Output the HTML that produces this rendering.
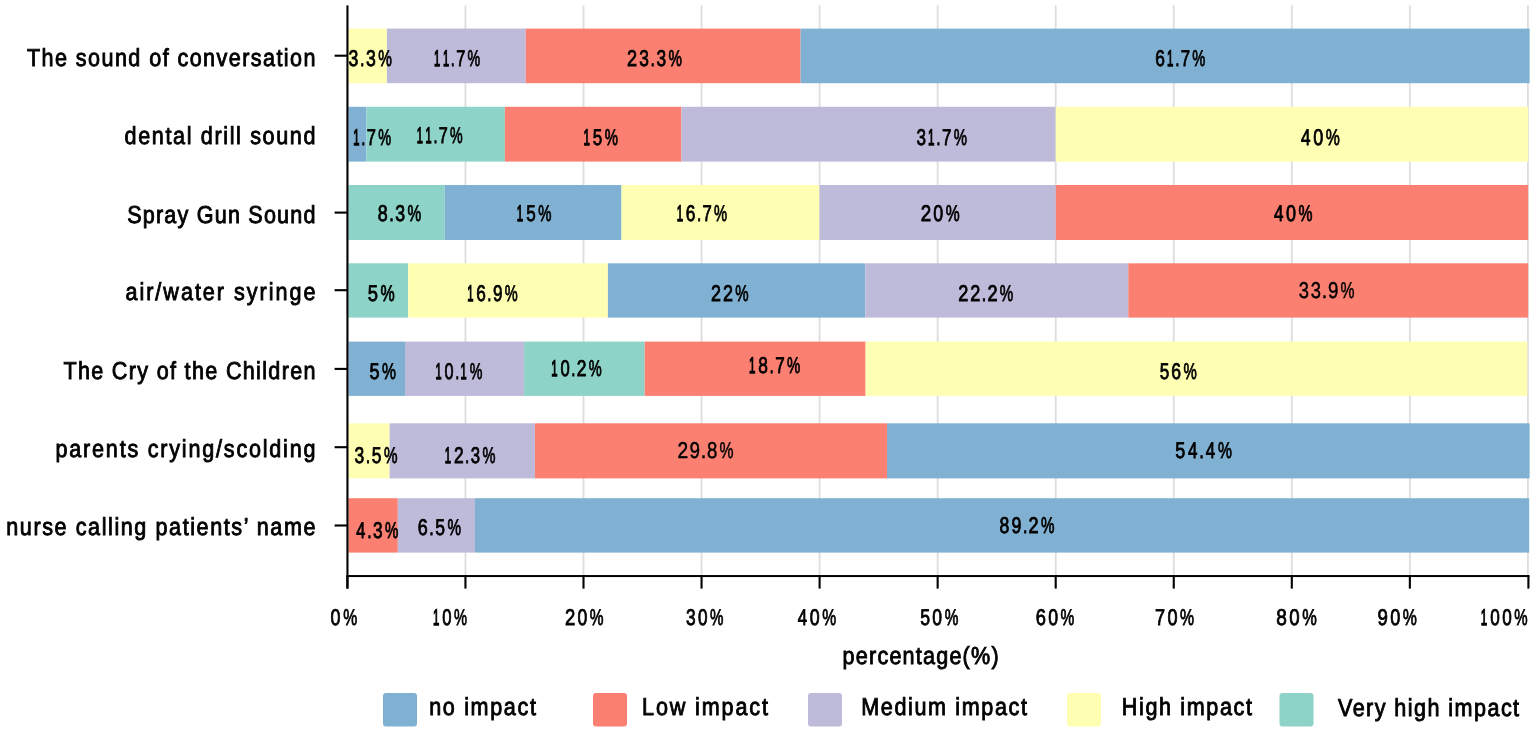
<!DOCTYPE html><html><head><meta charset="utf-8"><title>Noise impact chart</title><style>html,body{margin:0;padding:0;background:#fff;}svg{display:block;}text{font-family:"Liberation Sans",sans-serif;fill:#000;text-rendering:geometricPrecision;}.m{stroke:#000;stroke-width:0.85px;}.r{stroke:#000;stroke-width:0.5px;}.L{stroke:#000;stroke-width:0.9px;}</style></head><body>
<svg width="1535" height="732" viewBox="0 0 1535 732">
<rect x="0" y="0" width="1535" height="732" fill="#ffffff"/>
<rect x="464.55" y="5.4" width="1.8" height="571" fill="#dddddd"/>
<rect x="582.60" y="5.4" width="1.8" height="571" fill="#dddddd"/>
<rect x="700.65" y="5.4" width="1.8" height="571" fill="#dddddd"/>
<rect x="818.70" y="5.4" width="1.8" height="571" fill="#dddddd"/>
<rect x="936.75" y="5.4" width="1.8" height="571" fill="#dddddd"/>
<rect x="1054.80" y="5.4" width="1.8" height="571" fill="#dddddd"/>
<rect x="1172.85" y="5.4" width="1.8" height="571" fill="#dddddd"/>
<rect x="1290.90" y="5.4" width="1.8" height="571" fill="#dddddd"/>
<rect x="1408.95" y="5.4" width="1.8" height="571" fill="#dddddd"/>
<rect x="1527.00" y="5.4" width="1.8" height="571" fill="#dddddd"/>
<rect x="348.40" y="28.6" width="38.50" height="54.60" fill="#ffffb3"/>
<rect x="386.90" y="28.6" width="138.80" height="54.60" fill="#bebada"/>
<rect x="525.70" y="28.6" width="274.90" height="54.60" fill="#fb8072"/>
<rect x="800.60" y="28.6" width="729.00" height="54.60" fill="#80b1d3"/>
<rect x="348.40" y="106.8" width="18.10" height="54.80" fill="#80b1d3"/>
<rect x="366.50" y="106.8" width="138.40" height="54.80" fill="#8dd3c7"/>
<rect x="504.90" y="106.8" width="176.50" height="54.80" fill="#fb8072"/>
<rect x="681.40" y="106.8" width="374.30" height="54.80" fill="#bebada"/>
<rect x="1055.70" y="106.8" width="472.50" height="54.80" fill="#ffffb3"/>
<rect x="348.40" y="185.0" width="96.20" height="55.00" fill="#8dd3c7"/>
<rect x="444.60" y="185.0" width="176.90" height="55.00" fill="#80b1d3"/>
<rect x="621.50" y="185.0" width="198.00" height="55.00" fill="#ffffb3"/>
<rect x="819.50" y="185.0" width="236.30" height="55.00" fill="#bebada"/>
<rect x="1055.80" y="185.0" width="472.40" height="55.00" fill="#fb8072"/>
<rect x="348.40" y="263.3" width="59.80" height="54.30" fill="#8dd3c7"/>
<rect x="408.20" y="263.3" width="199.70" height="54.30" fill="#ffffb3"/>
<rect x="607.90" y="263.3" width="257.50" height="54.30" fill="#80b1d3"/>
<rect x="865.40" y="263.3" width="262.90" height="54.30" fill="#bebada"/>
<rect x="1128.30" y="263.3" width="399.90" height="54.30" fill="#fb8072"/>
<rect x="348.40" y="341.6" width="56.60" height="54.30" fill="#80b1d3"/>
<rect x="405.00" y="341.6" width="119.10" height="54.30" fill="#bebada"/>
<rect x="524.10" y="341.6" width="120.60" height="54.30" fill="#8dd3c7"/>
<rect x="644.70" y="341.6" width="220.90" height="54.30" fill="#fb8072"/>
<rect x="865.60" y="341.6" width="661.80" height="54.30" fill="#ffffb3"/>
<rect x="348.40" y="423.3" width="41.20" height="55.10" fill="#ffffb3"/>
<rect x="389.60" y="423.3" width="145.30" height="55.10" fill="#bebada"/>
<rect x="534.90" y="423.3" width="352.10" height="55.10" fill="#fb8072"/>
<rect x="887.00" y="423.3" width="642.60" height="55.10" fill="#80b1d3"/>
<rect x="348.40" y="498.2" width="49.40" height="54.40" fill="#fb8072"/>
<rect x="397.80" y="498.2" width="77.20" height="54.40" fill="#bebada"/>
<rect x="475.00" y="498.2" width="1054.20" height="54.40" fill="#80b1d3"/>
<rect x="346.4" y="5.4" width="2.1" height="583.2" fill="#000"/>
<rect x="346.4" y="575.05" width="1183" height="2.0" fill="#000"/>
<rect x="346.35" y="575.5" width="2.1" height="13.1" fill="#000"/>
<rect x="464.40" y="575.5" width="2.1" height="13.1" fill="#000"/>
<rect x="582.45" y="575.5" width="2.1" height="13.1" fill="#000"/>
<rect x="700.50" y="575.5" width="2.1" height="13.1" fill="#000"/>
<rect x="818.55" y="575.5" width="2.1" height="13.1" fill="#000"/>
<rect x="936.60" y="575.5" width="2.1" height="13.1" fill="#000"/>
<rect x="1054.65" y="575.5" width="2.1" height="13.1" fill="#000"/>
<rect x="1172.70" y="575.5" width="2.1" height="13.1" fill="#000"/>
<rect x="1290.75" y="575.5" width="2.1" height="13.1" fill="#000"/>
<rect x="1408.80" y="575.5" width="2.1" height="13.1" fill="#000"/>
<rect x="1527.35" y="575.5" width="2.1" height="13.1" fill="#000"/>
<rect x="334.6" y="54.65" width="13" height="2.1" fill="#000"/>
<rect x="334.6" y="211.55" width="13" height="2.1" fill="#000"/>
<rect x="334.6" y="289.15" width="13" height="2.1" fill="#000"/>
<rect x="334.6" y="367.85" width="13" height="2.1" fill="#000"/>
<rect x="334.6" y="446.15" width="13" height="2.1" fill="#000"/>
<rect x="334.6" y="524.45" width="13" height="2.1" fill="#000"/>
<rect x="383.0" y="693.0" width="34" height="33.6" rx="3" ry="3" fill="#80b1d3"/>
<rect x="593.0" y="693.0" width="34" height="33.6" rx="3" ry="3" fill="#fb8072"/>
<rect x="808.0" y="693.0" width="34" height="33.6" rx="3" ry="3" fill="#bebada"/>
<rect x="1067.0" y="693.0" width="34" height="33.6" rx="3" ry="3" fill="#ffffb3"/>
<rect x="1279.5" y="693.0" width="34" height="33.6" rx="3" ry="3" fill="#8dd3c7"/>
<text class="L" transform="translate(27.00,65.80) scale(0.88,1)" x="0" y="0" font-size="24.5" textLength="327.84" lengthAdjust="spacing">The sound of conversation</text>
<text class="L" transform="translate(124.50,144.40) scale(0.88,1)" x="0" y="0" font-size="24.5" textLength="217.05" lengthAdjust="spacing">dental drill sound</text>
<text class="L" transform="translate(127.20,222.60) scale(0.88,1)" x="0" y="0" font-size="24.5" textLength="213.98" lengthAdjust="spacing">Spray Gun Sound</text>
<text class="L" transform="translate(125.40,300.30) scale(0.88,1)" x="0" y="0" font-size="24.5" textLength="216.02" lengthAdjust="spacing">air/water syringe</text>
<text class="L" transform="translate(63.40,379.30) scale(0.88,1)" x="0" y="0" font-size="24.5" textLength="286.48" lengthAdjust="spacing">The Cry of the Children</text>
<text class="L" transform="translate(55.50,456.90) scale(0.88,1)" x="0" y="0" font-size="24.5" textLength="295.45" lengthAdjust="spacing">parents crying/scolding</text>
<text class="L" transform="translate(6.30,535.30) scale(0.88,1)" x="0" y="0" font-size="24.5" textLength="351.36" lengthAdjust="spacing">nurse calling patients’ name</text>
<text class="m" y="66.10" font-size="22.8"><tspan x="348.55" textLength="9.82" lengthAdjust="spacingAndGlyphs">3</tspan><tspan x="359.96" textLength="4.54" lengthAdjust="spacingAndGlyphs">.</tspan><tspan x="365.99" textLength="9.82" lengthAdjust="spacingAndGlyphs">3</tspan><tspan x="378.25" textLength="13.68" lengthAdjust="spacingAndGlyphs">%</tspan></text>
<text class="m" y="66.30" font-size="22.8"><tspan x="433.98" textLength="6.15" lengthAdjust="spacingAndGlyphs" stroke-width="1.3">1</tspan><tspan x="442.88" textLength="6.15" lengthAdjust="spacingAndGlyphs" stroke-width="1.3">1</tspan><tspan x="450.81" textLength="4.08" lengthAdjust="spacingAndGlyphs">.</tspan><tspan x="456.19" textLength="9.04" lengthAdjust="spacingAndGlyphs">7</tspan><tspan x="467.47" textLength="12.72" lengthAdjust="spacingAndGlyphs">%</tspan></text>
<text class="m" y="66.20" font-size="22.8"><tspan x="627.12" textLength="10.03" lengthAdjust="spacingAndGlyphs">2</tspan><tspan x="639.29" textLength="9.64" lengthAdjust="spacingAndGlyphs">3</tspan><tspan x="650.52" textLength="4.42" lengthAdjust="spacingAndGlyphs">.</tspan><tspan x="656.44" textLength="9.64" lengthAdjust="spacingAndGlyphs">3</tspan><tspan x="668.48" textLength="13.43" lengthAdjust="spacingAndGlyphs">%</tspan></text>
<text class="m" y="66.20" font-size="22.8"><tspan x="1155.34" textLength="9.65" lengthAdjust="spacingAndGlyphs">6</tspan><tspan x="1167.01" textLength="6.36" lengthAdjust="spacingAndGlyphs" stroke-width="1.3">1</tspan><tspan x="1175.14" textLength="4.26" lengthAdjust="spacingAndGlyphs">.</tspan><tspan x="1180.69" textLength="9.33" lengthAdjust="spacingAndGlyphs">7</tspan><tspan x="1192.29" textLength="13.11" lengthAdjust="spacingAndGlyphs">%</tspan></text>
<text class="m" y="144.80" font-size="22.8"><tspan x="353.32" textLength="6.24" lengthAdjust="spacingAndGlyphs" stroke-width="1.3">1</tspan><tspan x="361.34" textLength="4.16" lengthAdjust="spacingAndGlyphs">.</tspan><tspan x="366.79" textLength="9.16" lengthAdjust="spacingAndGlyphs">7</tspan><tspan x="378.21" textLength="12.88" lengthAdjust="spacingAndGlyphs">%</tspan></text>
<text class="m" y="143.30" font-size="22.8"><tspan x="416.69" textLength="6.12" lengthAdjust="spacingAndGlyphs" stroke-width="1.3">1</tspan><tspan x="425.54" textLength="6.12" lengthAdjust="spacingAndGlyphs" stroke-width="1.3">1</tspan><tspan x="433.44" textLength="4.05" lengthAdjust="spacingAndGlyphs">.</tspan><tspan x="438.79" textLength="9.00" lengthAdjust="spacingAndGlyphs">7</tspan><tspan x="450.02" textLength="12.66" lengthAdjust="spacingAndGlyphs">%</tspan></text>
<text class="m" y="144.80" font-size="22.8"><tspan x="583.45" textLength="6.42" lengthAdjust="spacingAndGlyphs" stroke-width="1.3">1</tspan><tspan x="592.87" textLength="9.49" lengthAdjust="spacingAndGlyphs">5</tspan><tspan x="604.78" textLength="13.23" lengthAdjust="spacingAndGlyphs">%</tspan></text>
<text class="m" y="144.80" font-size="22.8"><tspan x="916.57" textLength="9.50" lengthAdjust="spacingAndGlyphs">3</tspan><tspan x="928.11" textLength="6.43" lengthAdjust="spacingAndGlyphs" stroke-width="1.3">1</tspan><tspan x="936.33" textLength="4.33" lengthAdjust="spacingAndGlyphs">.</tspan><tspan x="941.94" textLength="9.43" lengthAdjust="spacingAndGlyphs">7</tspan><tspan x="953.66" textLength="13.25" lengthAdjust="spacingAndGlyphs">%</tspan></text>
<text class="m" y="144.80" font-size="22.8"><tspan x="1301.03" textLength="9.51" lengthAdjust="spacingAndGlyphs">4</tspan><tspan x="1313.17" textLength="10.03" lengthAdjust="spacingAndGlyphs">0</tspan><tspan x="1325.77" textLength="14.07" lengthAdjust="spacingAndGlyphs">%</tspan></text>
<text class="m" y="220.80" font-size="22.8"><tspan x="377.65" textLength="9.95" lengthAdjust="spacingAndGlyphs">8</tspan><tspan x="389.18" textLength="4.56" lengthAdjust="spacingAndGlyphs">.</tspan><tspan x="395.23" textLength="9.85" lengthAdjust="spacingAndGlyphs">3</tspan><tspan x="407.51" textLength="13.71" lengthAdjust="spacingAndGlyphs">%</tspan></text>
<text class="m" y="220.80" font-size="22.8"><tspan x="516.85" textLength="6.42" lengthAdjust="spacingAndGlyphs" stroke-width="1.3">1</tspan><tspan x="526.27" textLength="9.49" lengthAdjust="spacingAndGlyphs">5</tspan><tspan x="538.18" textLength="13.23" lengthAdjust="spacingAndGlyphs">%</tspan></text>
<text class="m" y="220.80" font-size="22.8"><tspan x="676.66" textLength="6.35" lengthAdjust="spacingAndGlyphs" stroke-width="1.3">1</tspan><tspan x="685.78" textLength="9.64" lengthAdjust="spacingAndGlyphs">6</tspan><tspan x="696.99" textLength="4.25" lengthAdjust="spacingAndGlyphs">.</tspan><tspan x="702.53" textLength="9.31" lengthAdjust="spacingAndGlyphs">7</tspan><tspan x="714.12" textLength="13.08" lengthAdjust="spacingAndGlyphs">%</tspan></text>
<text class="m" y="220.80" font-size="22.8"><tspan x="920.68" textLength="10.43" lengthAdjust="spacingAndGlyphs">2</tspan><tspan x="933.28" textLength="9.94" lengthAdjust="spacingAndGlyphs">0</tspan><tspan x="945.78" textLength="13.95" lengthAdjust="spacingAndGlyphs">%</tspan></text>
<text class="m" y="221.10" font-size="22.8"><tspan x="1273.93" textLength="9.49" lengthAdjust="spacingAndGlyphs">4</tspan><tspan x="1286.04" textLength="10.00" lengthAdjust="spacingAndGlyphs">0</tspan><tspan x="1298.61" textLength="14.03" lengthAdjust="spacingAndGlyphs">%</tspan></text>
<text class="m" y="301.00" font-size="22.8"><tspan x="367.79" textLength="10.22" lengthAdjust="spacingAndGlyphs">5</tspan><tspan x="380.53" textLength="14.22" lengthAdjust="spacingAndGlyphs">%</tspan></text>
<text class="m" y="301.00" font-size="22.8"><tspan x="467.16" textLength="6.29" lengthAdjust="spacingAndGlyphs" stroke-width="1.3">1</tspan><tspan x="476.22" textLength="9.56" lengthAdjust="spacingAndGlyphs">6</tspan><tspan x="487.35" textLength="4.20" lengthAdjust="spacingAndGlyphs">.</tspan><tspan x="492.89" textLength="9.55" lengthAdjust="spacingAndGlyphs">9</tspan><tspan x="504.72" textLength="12.98" lengthAdjust="spacingAndGlyphs">%</tspan></text>
<text class="m" y="301.00" font-size="22.8"><tspan x="711.02" textLength="9.98" lengthAdjust="spacingAndGlyphs">2</tspan><tspan x="722.90" textLength="9.98" lengthAdjust="spacingAndGlyphs">2</tspan><tspan x="735.14" textLength="13.37" lengthAdjust="spacingAndGlyphs">%</tspan></text>
<text class="m" y="301.00" font-size="22.8"><tspan x="958.31" textLength="10.07" lengthAdjust="spacingAndGlyphs">2</tspan><tspan x="970.28" textLength="10.07" lengthAdjust="spacingAndGlyphs">2</tspan><tspan x="981.80" textLength="4.45" lengthAdjust="spacingAndGlyphs">.</tspan><tspan x="987.49" textLength="10.07" lengthAdjust="spacingAndGlyphs">2</tspan><tspan x="999.83" textLength="13.48" lengthAdjust="spacingAndGlyphs">%</tspan></text>
<text class="r" y="297.80" font-size="22.8"><tspan x="1298.65" textLength="10.21" lengthAdjust="spacingAndGlyphs">3</tspan><tspan x="1310.75" textLength="10.21" lengthAdjust="spacingAndGlyphs">3</tspan><tspan x="1321.83" textLength="5.54" lengthAdjust="spacingAndGlyphs">.</tspan><tspan x="1327.97" textLength="10.47" lengthAdjust="spacingAndGlyphs">9</tspan><tspan x="1340.39" textLength="14.02" lengthAdjust="spacingAndGlyphs">%</tspan></text>
<text class="m" y="378.80" font-size="22.8"><tspan x="369.50" textLength="10.05" lengthAdjust="spacingAndGlyphs">5</tspan><tspan x="382.05" textLength="13.99" lengthAdjust="spacingAndGlyphs">%</tspan></text>
<text class="m" y="378.80" font-size="22.8"><tspan x="435.49" textLength="6.13" lengthAdjust="spacingAndGlyphs" stroke-width="1.3">1</tspan><tspan x="444.56" textLength="9.01" lengthAdjust="spacingAndGlyphs">0</tspan><tspan x="455.25" textLength="4.06" lengthAdjust="spacingAndGlyphs">.</tspan><tspan x="460.60" textLength="6.13" lengthAdjust="spacingAndGlyphs" stroke-width="1.3">1</tspan><tspan x="469.80" textLength="12.68" lengthAdjust="spacingAndGlyphs">%</tspan></text>
<text class="m" y="375.70" font-size="22.8"><tspan x="551.16" textLength="6.29" lengthAdjust="spacingAndGlyphs" stroke-width="1.3">1</tspan><tspan x="560.44" textLength="9.22" lengthAdjust="spacingAndGlyphs">0</tspan><tspan x="571.35" textLength="4.20" lengthAdjust="spacingAndGlyphs">.</tspan><tspan x="576.82" textLength="9.68" lengthAdjust="spacingAndGlyphs">2</tspan><tspan x="588.72" textLength="12.98" lengthAdjust="spacingAndGlyphs">%</tspan></text>
<text class="m" y="373.30" font-size="22.8"><tspan x="748.94" textLength="6.45" lengthAdjust="spacingAndGlyphs" stroke-width="1.3">1</tspan><tspan x="758.34" textLength="9.62" lengthAdjust="spacingAndGlyphs">8</tspan><tspan x="769.55" textLength="4.35" lengthAdjust="spacingAndGlyphs">.</tspan><tspan x="775.18" textLength="9.46" lengthAdjust="spacingAndGlyphs">7</tspan><tspan x="786.93" textLength="13.28" lengthAdjust="spacingAndGlyphs">%</tspan></text>
<text class="m" y="379.00" font-size="22.8"><tspan x="1159.64" textLength="9.54" lengthAdjust="spacingAndGlyphs">5</tspan><tspan x="1171.24" textLength="9.80" lengthAdjust="spacingAndGlyphs">6</tspan><tspan x="1183.41" textLength="13.30" lengthAdjust="spacingAndGlyphs">%</tspan></text>
<text class="m" y="462.70" font-size="22.8"><tspan x="354.46" textLength="9.72" lengthAdjust="spacingAndGlyphs">3</tspan><tspan x="365.77" textLength="4.47" lengthAdjust="spacingAndGlyphs">.</tspan><tspan x="371.70" textLength="9.72" lengthAdjust="spacingAndGlyphs">5</tspan><tspan x="383.88" textLength="13.54" lengthAdjust="spacingAndGlyphs">%</tspan></text>
<text class="m" y="462.70" font-size="22.8"><tspan x="444.86" textLength="6.29" lengthAdjust="spacingAndGlyphs" stroke-width="1.3">1</tspan><tspan x="453.91" textLength="9.68" lengthAdjust="spacingAndGlyphs">2</tspan><tspan x="465.05" textLength="4.20" lengthAdjust="spacingAndGlyphs">.</tspan><tspan x="470.76" textLength="9.30" lengthAdjust="spacingAndGlyphs">3</tspan><tspan x="482.42" textLength="12.98" lengthAdjust="spacingAndGlyphs">%</tspan></text>
<text class="r" y="457.70" font-size="22.8"><tspan x="677.39" textLength="10.64" lengthAdjust="spacingAndGlyphs">2</tspan><tspan x="689.59" textLength="10.50" lengthAdjust="spacingAndGlyphs">9</tspan><tspan x="700.87" textLength="5.56" lengthAdjust="spacingAndGlyphs">.</tspan><tspan x="707.10" textLength="10.33" lengthAdjust="spacingAndGlyphs">8</tspan><tspan x="719.46" textLength="14.05" lengthAdjust="spacingAndGlyphs">%</tspan></text>
<text class="m" y="457.50" font-size="22.8"><tspan x="1175.30" textLength="10.01" lengthAdjust="spacingAndGlyphs">5</tspan><tspan x="1187.98" textLength="9.42" lengthAdjust="spacingAndGlyphs">4</tspan><tspan x="1199.28" textLength="4.66" lengthAdjust="spacingAndGlyphs">.</tspan><tspan x="1205.73" textLength="9.42" lengthAdjust="spacingAndGlyphs">4</tspan><tspan x="1217.90" textLength="13.94" lengthAdjust="spacingAndGlyphs">%</tspan></text>
<text class="m" y="538.10" font-size="22.8"><tspan x="356.25" textLength="9.05" lengthAdjust="spacingAndGlyphs">4</tspan><tspan x="367.18" textLength="4.41" lengthAdjust="spacingAndGlyphs">.</tspan><tspan x="373.08" textLength="9.62" lengthAdjust="spacingAndGlyphs">3</tspan><tspan x="385.11" textLength="13.41" lengthAdjust="spacingAndGlyphs">%</tspan></text>
<text class="m" y="535.10" font-size="22.8"><tspan x="417.71" textLength="10.01" lengthAdjust="spacingAndGlyphs">6</tspan><tspan x="429.29" textLength="4.49" lengthAdjust="spacingAndGlyphs">.</tspan><tspan x="435.24" textLength="9.74" lengthAdjust="spacingAndGlyphs">5</tspan><tspan x="447.44" textLength="13.58" lengthAdjust="spacingAndGlyphs">%</tspan></text>
<text class="m" y="533.20" font-size="22.8"><tspan x="999.56" textLength="9.78" lengthAdjust="spacingAndGlyphs">8</tspan><tspan x="1011.46" textLength="9.93" lengthAdjust="spacingAndGlyphs">9</tspan><tspan x="1022.90" textLength="4.45" lengthAdjust="spacingAndGlyphs">.</tspan><tspan x="1028.59" textLength="10.07" lengthAdjust="spacingAndGlyphs">2</tspan><tspan x="1040.93" textLength="13.48" lengthAdjust="spacingAndGlyphs">%</tspan></text>
<text class="m" y="625.00" font-size="22.8"><tspan x="330.62" textLength="9.97" lengthAdjust="spacingAndGlyphs">0</tspan><tspan x="343.15" textLength="13.99" lengthAdjust="spacingAndGlyphs">%</tspan></text>
<text class="m" y="625.00" font-size="22.8"><tspan x="432.96" textLength="6.33" lengthAdjust="spacingAndGlyphs" stroke-width="1.3">1</tspan><tspan x="442.29" textLength="9.29" lengthAdjust="spacingAndGlyphs">0</tspan><tspan x="454.04" textLength="13.06" lengthAdjust="spacingAndGlyphs">%</tspan></text>
<text class="m" y="625.00" font-size="22.8"><tspan x="565.00" textLength="10.28" lengthAdjust="spacingAndGlyphs">2</tspan><tspan x="577.43" textLength="9.80" lengthAdjust="spacingAndGlyphs">0</tspan><tspan x="589.77" textLength="13.76" lengthAdjust="spacingAndGlyphs">%</tspan></text>
<text class="m" y="625.00" font-size="22.8"><tspan x="686.06" textLength="9.65" lengthAdjust="spacingAndGlyphs">3</tspan><tspan x="697.99" textLength="9.57" lengthAdjust="spacingAndGlyphs">0</tspan><tspan x="710.06" textLength="13.45" lengthAdjust="spacingAndGlyphs">%</tspan></text>
<text class="m" y="625.00" font-size="22.8"><tspan x="797.74" textLength="9.40" lengthAdjust="spacingAndGlyphs">4</tspan><tspan x="809.75" textLength="9.91" lengthAdjust="spacingAndGlyphs">0</tspan><tspan x="822.22" textLength="13.92" lengthAdjust="spacingAndGlyphs">%</tspan></text>
<text class="m" y="625.00" font-size="22.8"><tspan x="920.22" textLength="9.82" lengthAdjust="spacingAndGlyphs">5</tspan><tspan x="932.37" textLength="9.74" lengthAdjust="spacingAndGlyphs">0</tspan><tspan x="944.64" textLength="13.68" lengthAdjust="spacingAndGlyphs">%</tspan></text>
<text class="m" y="625.00" font-size="22.8"><tspan x="1035.70" textLength="10.18" lengthAdjust="spacingAndGlyphs">6</tspan><tspan x="1048.16" textLength="9.83" lengthAdjust="spacingAndGlyphs">0</tspan><tspan x="1060.53" textLength="13.80" lengthAdjust="spacingAndGlyphs">%</tspan></text>
<text class="m" y="625.00" font-size="22.8"><tspan x="1155.10" textLength="10.07" lengthAdjust="spacingAndGlyphs">7</tspan><tspan x="1167.40" textLength="10.06" lengthAdjust="spacingAndGlyphs">0</tspan><tspan x="1180.03" textLength="14.11" lengthAdjust="spacingAndGlyphs">%</tspan></text>
<text class="m" y="625.00" font-size="22.8"><tspan x="1276.20" textLength="10.59" lengthAdjust="spacingAndGlyphs">8</tspan><tspan x="1289.17" textLength="10.40" lengthAdjust="spacingAndGlyphs">0</tspan><tspan x="1302.19" textLength="14.57" lengthAdjust="spacingAndGlyphs">%</tspan></text>
<text class="m" y="625.00" font-size="22.8"><tspan x="1377.55" textLength="10.41" lengthAdjust="spacingAndGlyphs">9</tspan><tspan x="1390.20" textLength="10.06" lengthAdjust="spacingAndGlyphs">0</tspan><tspan x="1402.83" textLength="14.11" lengthAdjust="spacingAndGlyphs">%</tspan></text>
<text class="m" y="625.00" font-size="22.8"><tspan x="1480.74" textLength="6.50" lengthAdjust="spacingAndGlyphs" stroke-width="1.3">1</tspan><tspan x="1490.28" textLength="9.51" lengthAdjust="spacingAndGlyphs">0</tspan><tspan x="1502.14" textLength="9.51" lengthAdjust="spacingAndGlyphs">0</tspan><tspan x="1514.15" textLength="13.37" lengthAdjust="spacingAndGlyphs">%</tspan></text>
<text class="L" transform="translate(842.60,664.20) scale(0.88,1)" x="0" y="0" font-size="24.5" textLength="177.27" lengthAdjust="spacing">percentage(%)</text>
<text class="L" transform="translate(429.20,715.20) scale(0.88,1)" x="0" y="0" font-size="24.5" textLength="121.25" lengthAdjust="spacing">no impact</text>
<text class="L" transform="translate(642.10,715.20) scale(0.88,1)" x="0" y="0" font-size="24.5" textLength="143.07" lengthAdjust="spacing">Low impact</text>
<text class="L" transform="translate(861.20,715.30) scale(0.88,1)" x="0" y="0" font-size="24.5" textLength="188.41" lengthAdjust="spacing">Medium impact</text>
<text class="L" transform="translate(1121.80,715.30) scale(0.88,1)" x="0" y="0" font-size="24.5" textLength="147.84" lengthAdjust="spacing">High impact</text>
<text class="L" transform="translate(1338.00,715.50) scale(0.88,1)" x="0" y="0" font-size="24.5" textLength="205.80" lengthAdjust="spacing">Very high impact</text>
</svg></body></html>
